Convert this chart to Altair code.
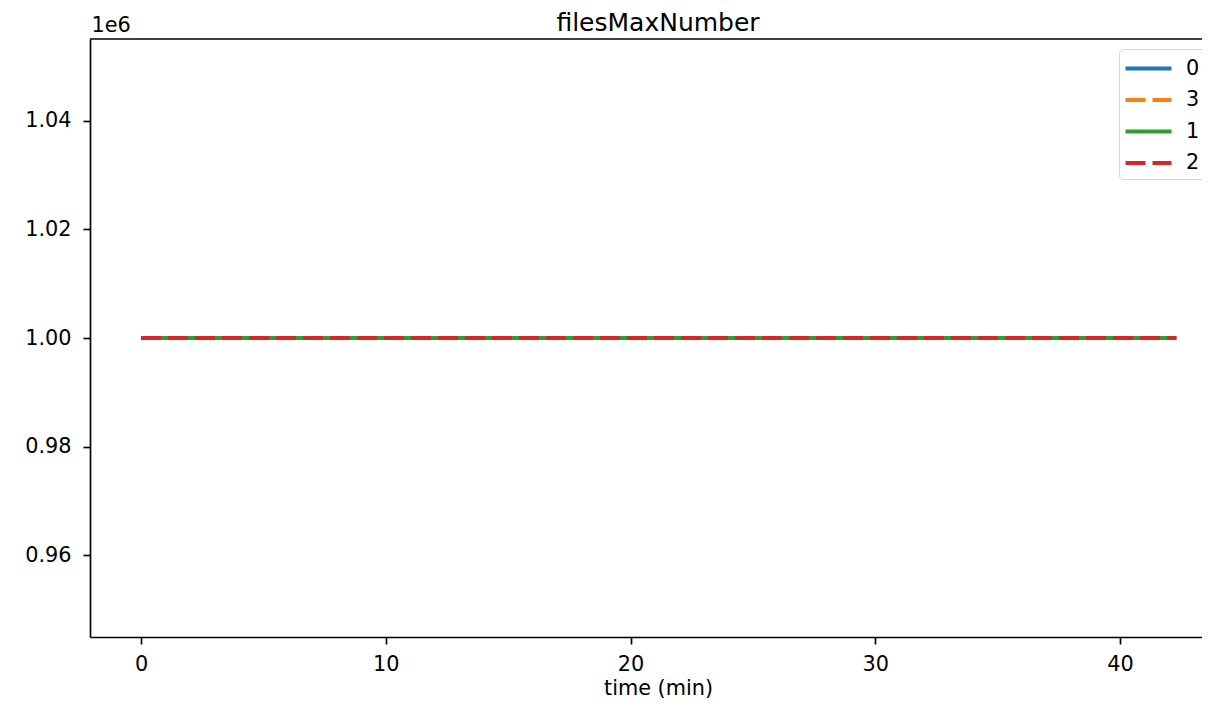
import altair as alt
import pandas as pd

# ---- data ----
series = ["0", "3", "1", "2"]          # legend / draw order
time_min = [0.0, 42.3]                  # x range of every series
values = {
    "0": [1000000, 1000000],
    "3": [1000000, 1000000],
    "1": [1000000, 1000000],
    "2": [1000000, 1000000],
}
colors = ["#1f77b4", "#ff7f0e", "#2ca02c", "#d62728"]
dashes = [[1, 0], [20, 7], [1, 0], [20, 7]]
y_ticks = [960000, 980000, 1000000, 1020000, 1040000]
x_ticks = [0, 10, 20, 30, 40]

rows = []
for s in series:
    for t, v in zip(time_min, values[s]):
        rows.append({"time": t, "value": v, "series": s})
df = pd.DataFrame(rows)

W, H = 1112, 598
FONT = "DejaVu Sans"
FS = 20.8

x_enc = alt.X(
    "time:Q",
    scale=alt.Scale(domain=[-2.084, 43.35], nice=False, zero=False),
    axis=alt.Axis(
        values=x_ticks, grid=False, title="time (min)",
        titleX=568, titleY=57, titleAlign="center", titleBaseline="alphabetic",
        labelPadding=10,
    ),
)
y_enc = alt.Y(
    "value:Q",
    scale=alt.Scale(domain=[945000, 1055000], nice=False, zero=False),
    axis=alt.Axis(
        values=y_ticks, grid=False, labelExpr="format(datum.value/1e6, '.2f')",
        title="1e6", titleAngle=0, titleAlign="left", titleBaseline="alphabetic",
        titleX=1, titleY=-8, labelPadding=12,
    ),
)
leg = alt.Legend(title=None, orient="none", legendX=1029, legendY=10)
color_enc = alt.Color("series:N", scale=alt.Scale(domain=series, range=colors), legend=leg)
dash_enc = alt.StrokeDash("series:N", scale=alt.Scale(domain=series, range=dashes), legend=leg)

layers = []
for s in series:
    layers.append(
        alt.Chart(df)
        .transform_filter(alt.datum.series == s)
        .mark_line(strokeWidth=4, strokeCap="butt")
        .encode(x=x_enc, y=y_enc, color=color_enc, strokeDash=dash_enc)
    )

frame_top = alt.Chart(pd.DataFrame({"k": [0]})).mark_rule(
    color="black", strokeWidth=1.67
).encode(x=alt.value(0), x2=alt.value(W), y=alt.value(0))

chart = (
    alt.layer(*layers, frame_top)
    .properties(
        width=W, height=H,
        title=alt.TitleParams("filesMaxNumber", fontSize=25, font=FONT,
                              fontWeight="normal", color="black", dx=12,
                              dy=26, anchor="middle"),
        autosize=alt.AutoSizeParams(type="none"),
        padding={"left": 82, "top": 31, "right": 0, "bottom": 62},
    )
    .configure_view(stroke=None)
    .configure_axis(
        labelFont=FONT, labelFontSize=FS, labelColor="black",
        titleFont=FONT, titleFontSize=FS, titleColor="black", titleFontWeight="normal",
        domainColor="black", domainWidth=1.67, tickColor="black", tickWidth=1.67,
        tickSize=7,
    )
    .configure_legend(
        symbolType="M-2,0H2", symbolStrokeWidth=4, symbolSize=529, symbolOffset=10,
        labelFont=FONT, labelFontSize=FS, labelColor="black", labelOffset=24,
        padding=6, strokeColor="#d6d6d6", cornerRadius=4, fillColor="white",
        rowPadding=7.5,
    )
)

chart.save("out.html", embed_options={"renderer": "svg", "actions": False})
